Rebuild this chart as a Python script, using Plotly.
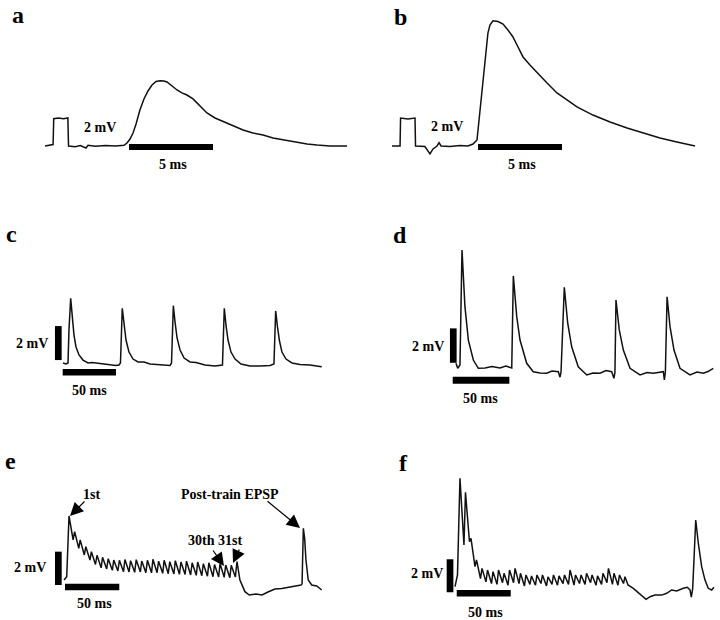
import plotly.graph_objects as go

# ---------------- DATA (time in ms, voltage in mV) ----------------
a_t = [0, 0.3, 0.48, 0.52, 0.8, 1.1, 1.36, 1.40, 1.8, 2.1,
       2.44, 2.56, 3.0, 3.6, 4.2, 4.7, 4.88, 5.06, 5.24, 5.42,
       5.65, 5.89, 6.13, 6.37, 6.61, 6.85, 7.08, 7.26, 7.44, 7.62,
       7.86, 8.15, 8.45, 8.81, 9.23, 9.64, 10.12, 10.71, 11.19, 11.79,
       12.38, 12.98, 13.57, 14.17, 14.88, 15.60, 16.19, 16.96, 17.98]
a_v = [0, 0.05, 0.1, 1.95, 2.0, 1.95, 2.0, 0.0, -0.05, 0.03,
       -0.14, 0.05, -0.02, 0.04, 0.0, 0.05, 0.21, 0.5, 0.93, 1.57,
       2.57, 3.36, 3.93, 4.36, 4.61, 4.66, 4.64, 4.57, 4.4, 4.21,
       4.0, 3.79, 3.64, 3.36, 2.86, 2.36, 2.0, 1.71, 1.43, 1.14,
       0.93, 0.79, 0.57, 0.43, 0.29, 0.14, 0.07, 0.0, 0.0]

b_t = [0, 0.30, 0.48, 0.51, 0.95, 1.37, 1.40, 1.96, 2.26, 2.44,
       2.68, 2.80, 2.92, 3.45, 4.05, 4.52, 4.82, 5.06, 5.24, 5.36,
       5.48, 5.60, 5.71, 5.83, 6.01, 6.31, 6.61, 6.90, 7.20, 7.50,
       7.80, 8.21, 8.63, 9.23, 9.82, 10.42, 11.01, 11.96, 12.98, 13.99,
       14.94, 15.95, 16.96, 18.04]
b_v = [0, 0, 0, 2.0, 1.93, 2.0, 0, -0.04, -0.57, -0.21,
       0, 0.24, 0, -0.04, 0.04, 0, 0.14, 0.43, 2.57, 4.36,
       5.64, 7.0, 8.07, 8.64, 8.95, 8.89, 8.71, 8.29, 7.79, 7.07,
       6.36, 5.79, 5.29, 4.5, 3.79, 3.29, 2.79, 2.21, 1.71, 1.29,
       0.93, 0.57, 0.29, 0]

c_t = [0, 2.8, 4.7, 5.6, 7.2, 8.4, 10.3, 12.2, 15.0, 18.8,
       23.5, 27.2, 31.0, 34.7, 39.4, 44.1, 49.7, 52.5, 53.9, 55.6,
       57.2, 59.1, 61.9, 65.7, 70.4, 76.0, 81.6, 91.0, 100.4, 101.8,
       103.5, 105.1, 107.0, 109.8, 113.6, 119.1, 124.8, 133.2, 142.6, 149.6,
       151.3, 152.9, 154.8, 157.6, 161.4, 167.0, 175.4, 184.8, 194.2, 197.9,
       199.5, 201.2, 203.1, 205.4, 209.2, 214.8, 222.3, 231.7, 242.7]
c_v = [0.12, 0.06, 0.12, 2.06, 3.92, 2.94, 1.76, 1.06, 0.59, 0.29,
       0.12, 0.15, 0.12, 0.06, 0.06, 0, -0.03, 0, 0.12, 3.34,
       2.35, 1.47, 0.76, 0.35, 0.18, 0.18, 0.06, 0, -0.03, 0.12,
       3.49, 2.53, 1.59, 0.88, 0.41, 0.18, 0.15, 0, -0.06, 0,
       3.34, 2.35, 1.47, 0.76, 0.35, 0.06, -0.06, -0.06, -0.03, 0.06,
       3.18, 2.24, 1.41, 0.76, 0.35, 0.12, 0.03, 0, -0.10]

d_t = [0, 1.5, 3.5, 5.3, 7.9, 10.9, 15.3, 19.7, 25.6, 31.8,
       38.8, 44.1, 49.2, 50.6, 53.6, 56.5, 62.4, 68.2, 74.1, 80.0,
       84.7, 90.3, 91.8, 92.7, 95.6, 98.6, 102.1, 107.9, 115.4, 120.9,
       127.1, 132.4, 137.4, 139.4, 140.3, 141.2, 144.1, 147.7, 153.6, 162.4,
       168.6, 174.1, 183.0, 183.9, 184.8, 186.3, 188.9, 192.4, 197.7, 206.5,
       212.7, 218.3, 222.4, 227.1]
d_v = [0.39, 0.10, 0.29, 6.98, 3.68, 1.74, 0.58, 0.10, 0.12, 0.2,
       0.12, 0.23, 0.12, 5.47, 3.10, 1.74, 0.39, -0.10, -0.17, -0.19,
       -0.06, -0.10, -0.42, -0.12, 4.81, 2.72, 1.35, 0.19, -0.29, -0.17,
       -0.19, -0.03, -0.10, -0.48, -0.12, 4.07, 2.33, 1.16, 0.10, -0.29,
       -0.15, -0.19, -0.10, -0.58, -0.12, 4.26, 2.52, 1.16, 0.10, -0.29,
       -0.12, -0.19, -0.09, 0.10]

# panel e: 31-stimulus train + post-train EPSP
e_pre_t = [0, 2.5]
e_pre_v = [0.12, 0.32]
e_peak_t = [4.6, 9.8, 14.9, 20.1, 25.2, 30.4, 35.5, 40.7, 45.8, 51.0,
            56.1, 61.3, 66.5, 71.6, 76.8, 81.9, 87.1, 92.2, 97.4, 102.5,
            107.7, 112.8, 118.0, 123.1, 128.3, 133.4, 138.6, 143.7, 148.9, 154.0,
            159.3]
e_peak_v = [3.96, 3.02, 2.52, 2.12, 1.82, 1.60, 1.48, 1.40, 1.32, 1.30,
            1.35, 1.28, 1.34, 1.26, 1.30, 1.36, 1.25, 1.30, 1.22, 1.28,
            1.20, 1.25, 1.15, 1.20, 1.10, 1.15, 1.05, 1.10, 1.02, 1.00,
            1.22]
e_trough_t = [8.4, 13.6, 18.7, 23.9, 29.0, 34.2, 39.3, 44.5, 49.6, 54.8,
              59.9, 65.1, 70.3, 75.4, 80.6, 85.7, 90.9, 96.0, 101.2, 106.3,
              111.5, 116.6, 121.8, 126.9, 132.1, 137.2, 142.4, 147.5, 152.7, 157.8]
e_trough_v = [2.52, 2.02, 1.62, 1.32, 1.05, 0.85, 0.78, 0.70, 0.66, 0.62,
              0.60, 0.58, 0.60, 0.56, 0.55, 0.56, 0.52, 0.50, 0.48, 0.46,
              0.45, 0.42, 0.40, 0.38, 0.35, 0.32, 0.30, 0.28, 0.26, 0.30]
e_post_t = [162.0, 166.6, 170.6, 176.8, 182.3, 187.8, 194.3, 200.7, 208.1, 214.5,
            218.2, 219.2, 220.4, 221.6, 222.8, 224.9, 228.1, 232.7, 237.3]
e_post_v = [0.12, -0.58, -0.78, -0.72, -0.78, -0.6, -0.42, -0.39, -0.3, -0.24,
            -0.18, -0.12, 3.22, 2.6, 1.32, 0.12, -0.18, -0.24, -0.48]

# panel f
f_pre_t = [0, 1.6, 2.3]
f_pre_v = [-0.04, 0.47, 0.67]
f_peak_t = [4.6, 9.7, 14.8, 19.9, 25.0, 30.1, 35.2, 40.3, 45.4, 50.5,
            55.6, 60.6, 65.7, 70.8, 75.9, 81.0, 86.1, 91.2, 96.3, 101.4,
            106.5, 111.6, 116.7, 121.8, 126.9, 132.0, 137.0, 142.1, 147.2, 152.3,
            157.4]
f_peak_v = [6.53, 5.68, 2.89, 1.58, 1.07, 0.97, 0.87, 0.97, 0.77, 0.97,
            1.07, 0.77, 0.67, 0.61, 0.67, 0.67, 0.56, 0.67, 0.61, 0.67,
            0.97, 0.67, 0.67, 0.77, 0.67, 0.61, 0.77, 1.07, 0.77, 0.67,
            0.56]
f_trough_t = [8.3, 13.4, 18.5, 23.6, 28.7, 33.8, 38.9, 44.0, 49.1, 54.2,
              59.3, 64.3, 69.4, 74.5, 79.6, 84.7, 89.8, 94.9, 100.0, 105.1,
              110.2, 115.3, 120.4, 125.5, 130.6, 135.7, 140.7, 145.8, 150.9, 156.0]
f_trough_v = [2.48, 2.68, 1.17, 0.45, 0.25, 0.15, 0.10, 0.20, 0.05, 0.20,
              0.15, 0.00, 0.10, 0.05, 0.15, 0.00, 0.10, 0.05, 0.15, 0.10,
              0.05, 0.15, 0.10, 0.20, 0.05, 0.10, 0.20, 0.10, 0.05, 0.15]
f_post_t = [160.2, 165.1, 169.7, 174.4, 176.9, 180.6, 185.2, 191.4, 196.0, 200.6,
            205.3, 211.4, 215.1, 217.6, 218.8, 220.1, 222.9, 225.3, 228.4, 231.5,
            234.5, 237.7, 239.8]
f_post_v = [0.06, -0.14, -0.41, -0.65, -0.81, -0.65, -0.55, -0.55, -0.44, -0.24,
            -0.30, -0.14, -0.08, -0.24, -0.68, -0.14, 4.0, 2.59, 1.17, 0.36,
            -0.14, -0.24, -0.08]

# scale-bar sizes
a_bar_ms = 5
b_bar_ms = 5
c_bar_ms, c_bar_mv = 50, 2
d_bar_ms, d_bar_mv = 50, 2
e_bar_ms, e_bar_mv = 50, 2
f_bar_ms, f_bar_mv = 50, 2


def train(pre_t, pre_v, pk_t, pk_v, tr_t, tr_v, post_t, post_v):
    t, v = list(pre_t), list(pre_v)
    for i in range(len(pk_t)):
        t.append(pk_t[i]); v.append(pk_v[i])
        if i < len(tr_t):
            t.append(tr_t[i]); v.append(tr_v[i])
    return t + list(post_t), v + list(post_v)


e_t, e_v = train(e_pre_t, e_pre_v, e_peak_t, e_peak_v, e_trough_t, e_trough_v, e_post_t, e_post_v)
f_t, f_v = train(f_pre_t, f_pre_v, f_peak_t, f_peak_v, f_trough_t, f_trough_v, f_post_t, f_post_v)

# ---------------- LAYOUT (pixel calibration of each panel) ----------------
W, H = 720, 620
panels = {
    'a': dict(box=(0, 360, 0, 200), x0=45, y0=146, sx=16.8, sy=14.0),
    'b': dict(box=(360, 720, 0, 200), x0=392, y0=146, sx=16.8, sy=14.0),
    'c': dict(box=(0, 360, 200, 420), x0=63, y0=365, sx=1.066, sy=17.0),
    'd': dict(box=(360, 720, 200, 420), x0=456, y0=370, sx=1.133, sy=17.2),
    'e': dict(box=(0, 360, 420, 620), x0=64, y0=582, sx=1.086, sy=16.67),
    'f': dict(box=(360, 720, 420, 620), x0=455, y0=586, sx=1.08, sy=16.5),
}
traces = {'a': (a_t, a_v), 'b': (b_t, b_v), 'c': (c_t, c_v),
          'd': (d_t, d_v), 'e': (e_t, e_v), 'f': (f_t, f_v)}

hbars = {'a': (5.0, -0.07, a_bar_ms, 6), 'b': (5.12, -0.07, b_bar_ms, 6),
         'c': (-0.3, -0.43, c_bar_ms, 6.5), 'd': (-2.9, -0.6, d_bar_ms, 7),
         'e': (0.9, -0.3, e_bar_ms, 6.5), 'f': (1.6, -0.44, f_bar_ms, 6.5)}
vbars = {'c': (-4.4, 0.29, c_bar_mv, 6.7), 'd': (-2.4, 0.42, d_bar_mv, 6.7),
         'e': (-5.2, -0.18, e_bar_mv, 6.7), 'f': (-4.6, -0.38, f_bar_mv, 6.7)}

fig = go.Figure()
layout = dict(width=W, height=H, margin=dict(l=0, r=0, t=0, b=0),
              paper_bgcolor='white', plot_bgcolor='rgba(0,0,0,0)',
              showlegend=False)

LINE = '#111111'
for i, key in enumerate(['a', 'b', 'c', 'd', 'e', 'f']):
    p = panels[key]
    L, R, T, B = p['box']
    suf = '' if i == 0 else str(i + 1)
    xr = [(L - p['x0']) / p['sx'], (R - p['x0']) / p['sx']]
    yr = [(p['y0'] - B) / p['sy'], (p['y0'] - T) / p['sy']]
    layout['xaxis' + suf] = dict(domain=[L / W, R / W], range=xr, visible=False,
                                 fixedrange=True, anchor='y' + suf)
    layout['yaxis' + suf] = dict(domain=[1 - B / H, 1 - T / H], range=yr, visible=False,
                                 fixedrange=True, anchor='x' + suf)
    xa, ya = 'x' + suf, 'y' + suf
    t, v = traces[key]
    fig.add_trace(go.Scatter(x=t, y=v, mode='lines', xaxis=xa, yaxis=ya,
                             line=dict(color=LINE, width=1.5), hoverinfo='skip'))
    hs, hv, hl, hw = hbars[key]
    fig.add_trace(go.Scatter(x=[hs, hs + hl], y=[hv, hv], mode='lines', xaxis=xa, yaxis=ya,
                             line=dict(color='black', width=hw), hoverinfo='skip'))
    if key in vbars:
        vt, vs, vl, vw = vbars[key]
        fig.add_trace(go.Scatter(x=[vt, vt], y=[vs, vs + vl], mode='lines', xaxis=xa, yaxis=ya,
                                 line=dict(color='black', width=vw), hoverinfo='skip'))

fig.update_layout(**layout)

FONT = '"Liberation Serif", "Times New Roman", Times, serif'


def txt(s, x, y, size=13):
    fig.add_annotation(text='<b>' + s + '</b>', x=x / W, y=1 - y / H, xref='paper', yref='paper',
                       showarrow=False, xanchor='center', yanchor='middle',
                       font=dict(family=FONT, size=size, color='black'))


def arrow(tip, tail):
    fig.add_annotation(text='', x=tip[0] / W, y=1 - tip[1] / H, xref='paper', yref='paper',
                       ax=tail[0] - tip[0], ay=tail[1] - tip[1], showarrow=True,
                       arrowhead=2, arrowsize=2.2, arrowwidth=1.2, arrowcolor='black')


for s, x, y in [('a', 18, 15), ('b', 400, 17), ('c', 11, 234),
                ('d', 400, 235), ('e', 10, 461), ('f', 403, 463)]:
    txt(s, x, y, size=24)

for s, x, y in [('2 mV', 100, 128), ('5 ms', 173, 164),
                ('2 mV', 447, 126), ('5 ms', 522, 164),
                ('2 mV', 32, 343), ('50 ms', 89, 390),
                ('2 mV', 428, 346), ('50 ms', 481, 398),
                ('2 mV', 30, 567), ('50 ms', 94, 603),
                ('2 mV', 427, 573), ('50 ms', 485, 612)]:
    txt(s, x, y, size=14)

txt('1st', 91, 494, 14)
txt('Post-train EPSP', 230, 494, 14)
txt('30th', 201, 540, 14)
txt('31st', 230, 540, 14)
arrow((70, 516), (86, 500))
arrow((300, 528), (266, 500))
arrow((224, 566), (212, 549))
arrow((233, 563), (240, 548))

fig.write_html('out.html', config={'displayModeBar': False},
               post_script="document.body.style.margin='0px';document.body.style.overflow='hidden';")
